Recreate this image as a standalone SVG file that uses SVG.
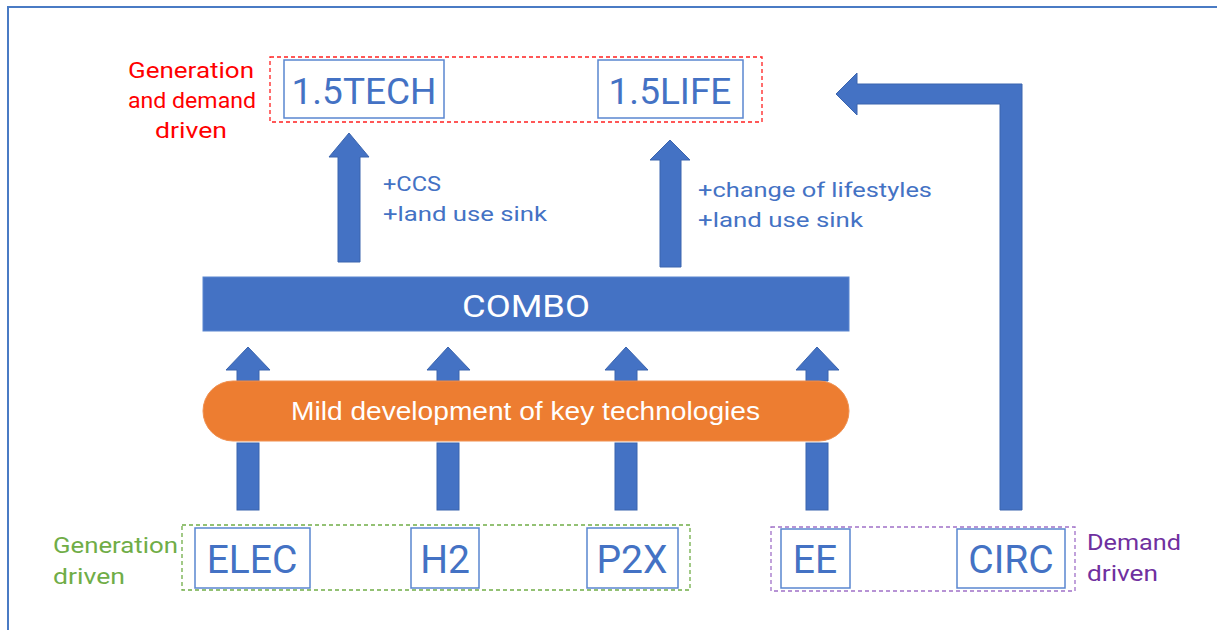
<svg xmlns="http://www.w3.org/2000/svg" width="1217" height="630" viewBox="0 0 1217 630">
<style>
.box{fill:#fff;stroke:#5A86D0;stroke-width:1.5}
.bt{font-family:Roboto,"DejaVu Sans",sans-serif;fill:#4472C4;text-anchor:middle}
.lbl{font-family:Roboto,"DejaVu Sans",sans-serif;font-size:22px}
.arr{fill:#4472C4;stroke:#3A64AE;stroke-width:1}
.note{font-family:Roboto,"DejaVu Sans",sans-serif;font-size:21px;fill:#4472C4}
</style>
<rect width="1217" height="630" fill="#fff"/>
<path d="M8 630 V7 H1217" fill="none" stroke="#4A7BC4" stroke-width="2"/>
<g id="connectors">
<path class="arr" d="M338 262 V157 H329 L349 133 L369 157 H360 V262 Z"/>
<path class="arr" d="M660 267 V160 H650 L670 140 L690 160 H681 V267 Z"/>
<path class="arr" d="M237 381 V370 H226 L248 347 L270 370 H259 V381 Z"/>
<path class="arr" d="M437 381 V370 H427 L448 347 L470 370 H459 V381 Z"/>
<path class="arr" d="M615 381 V370 H605 L626 347 L648 370 H637 V381 Z"/>
<path class="arr" d="M806 381 V370 H796 L817 347 L839 370 H828 V381 Z"/>
<rect class="arr" x="237" y="443" width="22" height="67"/>
<rect class="arr" x="437" y="443" width="22" height="67"/>
<rect class="arr" x="615" y="443" width="22" height="67"/>
<rect class="arr" x="806" y="443" width="22" height="67"/>
<path class="arr" d="M1000 510 V104 H857 V115 L836 94 L857 73 V84 H1022 V510 Z"/>
</g>
<g id="group-top">
<rect x="270" y="57" width="492" height="65" fill="none" stroke="#FF2020" stroke-width="1.3" stroke-dasharray="4 3"/>
<text class="lbl" x="128" y="78" fill="#FF0000" textLength="126" lengthAdjust="spacingAndGlyphs">Generation</text>
<text class="lbl" x="128" y="108" fill="#FF0000" textLength="128" lengthAdjust="spacingAndGlyphs">and demand</text>
<text class="lbl" x="155" y="138" fill="#FF0000" textLength="72" lengthAdjust="spacingAndGlyphs">driven</text>
</g>
<g id="n-15tech">
<rect class="box" x="284" y="60" width="160" height="58"/>
<text class="bt" x="364" y="104" font-size="37">1.5TECH</text>
</g>
<g id="n-15life">
<rect class="box" x="598" y="60" width="145" height="58"/>
<text class="bt" x="670" y="104" font-size="37">1.5LIFE</text>
</g>
<g id="notes">
<text class="note" x="383" y="191" textLength="58" lengthAdjust="spacingAndGlyphs">+CCS</text>
<text class="note" x="383" y="221" textLength="164" lengthAdjust="spacingAndGlyphs">+land use sink</text>
<text class="note" x="698" y="197" textLength="234" lengthAdjust="spacingAndGlyphs">+change of lifestyles</text>
<text class="note" x="698" y="227" textLength="165" lengthAdjust="spacingAndGlyphs">+land use sink</text>
</g>
<g id="n-combo">
<rect x="203" y="277" width="646" height="54" fill="#4472C4" stroke="#5A86D0" stroke-width="1"/>
<text x="462" y="317" font-family="Roboto,'DejaVu Sans',sans-serif" font-size="31" fill="#fff" textLength="128" lengthAdjust="spacingAndGlyphs">COMBO</text>
</g>
<g id="n-mild">
<rect x="203" y="381" width="646" height="60" rx="30" fill="#ED7D31" stroke="#F09050" stroke-width="1"/>
<text x="291" y="420" font-family="'Liberation Sans',Arial,sans-serif" font-size="26" fill="#fff" textLength="469" lengthAdjust="spacingAndGlyphs">Mild development of key technologies</text>
</g>
<g id="group-gen">
<rect x="182" y="525" width="508" height="65" fill="none" stroke="#70AD47" stroke-width="1.3" stroke-dasharray="4 3"/>
<text class="lbl" x="53" y="553" fill="#70AD47" textLength="125" lengthAdjust="spacingAndGlyphs">Generation</text>
<text class="lbl" x="53" y="584" fill="#70AD47" textLength="72" lengthAdjust="spacingAndGlyphs">driven</text>
</g>
<g id="n-elec">
<rect class="box" x="195" y="528" width="115" height="60"/>
<text class="bt" x="252" y="573" font-size="39">ELEC</text>
</g>
<g id="n-h2">
<rect class="box" x="411" y="528" width="68" height="60"/>
<text class="bt" x="445" y="573" font-size="39">H2</text>
</g>
<g id="n-p2x">
<rect class="box" x="587" y="528" width="91" height="60"/>
<text class="bt" x="632" y="573" font-size="39">P2X</text>
</g>
<g id="group-dem">
<rect x="771" y="527" width="304" height="64" fill="none" stroke="#A070C8" stroke-width="1.3" stroke-dasharray="4 3"/>
<text class="lbl" x="1087" y="550" fill="#7030A0" textLength="94" lengthAdjust="spacingAndGlyphs">Demand</text>
<text class="lbl" x="1087" y="581" fill="#7030A0" textLength="71" lengthAdjust="spacingAndGlyphs">driven</text>
</g>
<g id="n-ee">
<rect class="box" x="781" y="529" width="69" height="59"/>
<text class="bt" x="815" y="573" font-size="39">EE</text>
</g>
<g id="n-circ">
<rect class="box" x="957" y="529" width="108" height="59"/>
<text class="bt" x="1011" y="573" font-size="39">CIRC</text>
</g>
</svg>
